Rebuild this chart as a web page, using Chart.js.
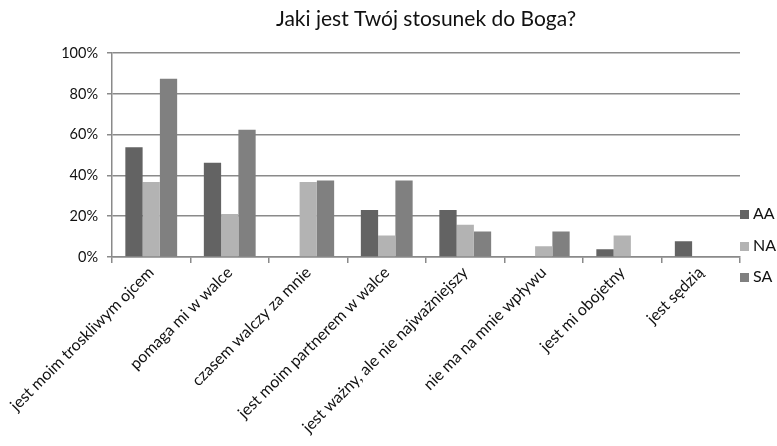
<!DOCTYPE html>
<html>
<head>
<meta charset="utf-8">
<script src="https://cdn.jsdelivr.net/npm/chart.js@4"></script>
<style>
  html, body { margin: 0; padding: 0; background: #fff; }
  #wrap { position: relative; width: 777px; height: 446px; }
  #legend { position: absolute; left: 740px; top: 0; font-family: Lato, 'Open Sans', sans-serif; font-size: 16px; color: #111; }
  #legend div { position: absolute; left: 0; white-space: nowrap; line-height: 16px; }
  #legend span { display: inline-block; width: 9px; height: 9px; margin-right: 4px; vertical-align: 0px; }
</style>
</head>
<body>
<div id="wrap">
  <canvas id="myChart" width="777" height="446"></canvas>
  <div id="legend"></div>
</div>
<script>
// values (percent)
const categories = [
  'jest moim troskliwym ojcem',
  'pomaga mi w walce',
  'czasem walczy za mnie',
  'jest moim partnerem w walce',
  'jest ważny, ale nie najważniejszy',
  'nie ma na mnie wpływu',
  'jest mi obojetny',
  'jest sędzią'
];
const seriesNames = ['AA', 'NA', 'SA'];
const valuesAA = [53.8, 46.2, 0, 23.1, 23.1, 0, 3.8, 7.7];
const valuesNA = [36.8, 21.1, 36.8, 10.5, 15.8, 5.3, 10.5, 0];
const valuesSA = [87.5, 62.5, 37.5, 37.5, 12.5, 12.5, 0, 0];
const yTicks = [0, 20, 40, 60, 80, 100];
const colors = ['#636363', '#b3b3b3', '#808080'];

const font = "Lato, 'Open Sans', sans-serif";
const gridColor = '#8a8a8a';

// html legend on the right
const legendTops = [205, 237, 268];
const legendEl = document.getElementById('legend');
seriesNames.forEach((name, i) => {
  const row = document.createElement('div');
  row.style.top = legendTops[i] + 'px';
  row.innerHTML = '<span style="background:' + colors[i] + '"></span>' + name;
  legendEl.appendChild(row);
});

const ctx = document.getElementById('myChart').getContext('2d');
new Chart(ctx, {
  type: 'bar',
  data: {
    labels: categories,
    datasets: [valuesAA, valuesNA, valuesSA].map((d, i) => ({
      label: seriesNames[i],
      data: d,
      backgroundColor: colors[i],
      borderWidth: 0,
      categoryPercentage: 0.66,
      barPercentage: 1.0
    }))
  },
  options: {
    responsive: false,
    animation: false,
    layout: { padding: { left: 0, right: 37, top: 7, bottom: 0 } },
    plugins: {
      title: {
        display: true,
        fullSize: false,
        text: 'Jaki jest Twój stosunek do Boga?',
        color: '#111',
        font: { family: font, size: 21, weight: 'normal' },
        padding: { top: 0, bottom: 21 }
      },
      legend: { display: false },
      tooltip: { enabled: false }
    },
    scales: {
      x: {
        grid: {
          drawOnChartArea: false,
          offset: true,
          color: gridColor,
          lineWidth: 1.5,
          tickLength: 6
        },
        border: { color: gridColor, width: 1.5 },
        ticks: {
          color: '#111',
          font: { family: font, size: 16 },
          minRotation: 45,
          maxRotation: 45,
          autoSkip: false,
          padding: 0
        },
        afterFit: (s) => { s.height = 189; }
      },
      y: {
        min: 0,
        max: 100,
        afterBuildTicks: (s) => { s.ticks = yTicks.map(v => ({ value: v })); },
        grid: { color: gridColor, lineWidth: 1.5, tickLength: 5 },
        border: { color: gridColor, width: 1.5 },
        ticks: {
          color: '#111',
          font: { family: font, size: 14.5 },
          padding: 9,
          callback: (v) => v + '%'
        },
        afterFit: (s) => { s.width = 112; }
      }
    }
  }
});
</script>
</body>
</html>
